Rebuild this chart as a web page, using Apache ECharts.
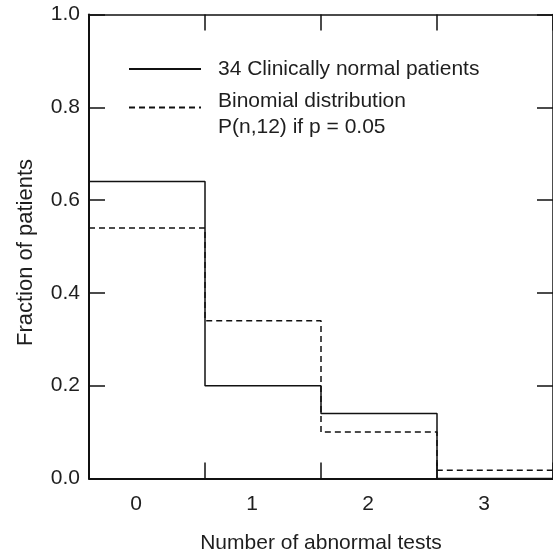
<!DOCTYPE html>
<html><head><meta charset="utf-8">
<script src="https://cdn.jsdelivr.net/npm/echarts@6/dist/echarts.min.js"></script>
<style>html,body{margin:0;padding:0;background:#fff}#c{width:553px;height:560px}</style>
</head><body><div id="c"></div>
<script>
const categories = ['0', '1', '2', '3'];
const binEdges = [0, 1, 2, 3, 4];
const observed = [0.64, 0.20, 0.14, 0.0];
const binomial = [0.54, 0.34, 0.10, 0.018];
const seriesNames = ['34 Clinically normal patients', 'Binomial distribution'];
const binomialSubtitle = 'P(n,12) if p = 0.05';
const xTitle = 'Number of abnormal tests';
const yTitle = 'Fraction of patients';

function stepPoints(vals) {
  const pts = vals.map((v, i) => [binEdges[i], v]);
  pts.push([binEdges[vals.length], vals[vals.length - 1]]);
  return pts;
}

const FONT = 'Liberation Sans, Arial, Helvetica, sans-serif';
const INK = '#111';
const TXT = '#1e1e1e';

const chart = echarts.init(document.getElementById('c'), null, {renderer: 'canvas'});
const frameAxis = (pos, w) => ({
  type: 'value', position: pos, min: 0, max: 4, interval: 1,
  axisLine: {onZero: false, lineStyle: {color: INK, width: w}},
  axisTick: {inside: true, length: 16, lineStyle: {color: INK, width: 1.5}},
  axisLabel: {show: false}, splitLine: {show: false}
});
const frameY = (pos, w) => ({
  type: 'value', position: pos, min: 0, max: 1, interval: 0.2,
  axisLine: {show: true, onZero: false, lineStyle: {color: INK, width: w}},
  axisTick: {show: true, inside: true, length: 16, lineStyle: {color: INK, width: 1.5}},
  axisLabel: {show: false}, splitLine: {show: false}
});
const legendBase = {
  orient: 'horizontal', left: 128, padding: 0, itemWidth: 72, itemHeight: 14,
  selectedMode: false,
  itemStyle: {opacity: 0, color: 'rgba(0,0,0,0)', borderWidth: 0}
};
const tokenStyle = {fontFamily: FONT, fontSize: 21, color: TXT};

const xLeft = frameAxis('bottom', 2);
xLeft.name = xTitle;
xLeft.nameLocation = 'middle';
xLeft.nameGap = 54;
xLeft.nameTextStyle = {fontFamily: FONT, fontSize: 21, color: TXT};

const yLeft = frameY('left', 2);
yLeft.axisLabel = {show: true, margin: 9, fontFamily: FONT, fontSize: 21, color: TXT, formatter: v => v.toFixed(1)};
yLeft.name = yTitle;
yLeft.nameLocation = 'middle';
yLeft.nameRotate = 90;
yLeft.nameGap = 52;
yLeft.nameTextStyle = {fontFamily: FONT, fontSize: 22, color: TXT, padding: [0, 12, 0, 0]};

chart.setOption({
  animation: false,
  backgroundColor: '#fff',
  grid: {left: 89, right: -1, top: 14.5, bottom: 81.5, containLabel: false},
  legend: [
    Object.assign({}, legendBase, {
      top: 56, data: [seriesNames[0]],
      textStyle: {fontFamily: FONT, fontSize: 21, color: TXT, lineHeight: 26, padding: [0, 0, 0, 12]}
    }),
    Object.assign({}, legendBase, {
      top: 77, data: [seriesNames[1]],
      formatter: n => '{a|' + n + '}\n{b|' + binomialSubtitle + '}',
      textStyle: {
        fontFamily: FONT, fontSize: 21, color: TXT,
        rich: {
          a: Object.assign({}, tokenStyle, {lineHeight: 40, padding: [14, 0, 0, 12]}),
          b: Object.assign({}, tokenStyle, {lineHeight: 26, padding: [0, 0, 0, 12]})
        }
      }
    })
  ],
  xAxis: [
    xLeft,
    frameAxis('top', 1.5),
    {
      type: 'category', position: 'bottom', data: categories, boundaryGap: true,
      axisLine: {show: false}, axisTick: {show: false}, splitLine: {show: false},
      axisLabel: {margin: 15, padding: [0, 22, 0, 0], fontFamily: FONT, fontSize: 21, color: TXT}
    }
  ],
  yAxis: [yLeft, frameY('right', 1.5)],
  series: [
    {
      name: seriesNames[1], type: 'line', step: 'end', symbol: 'none', xAxisIndex: 0, yAxisIndex: 0,
      data: stepPoints(binomial), z: 2,
      lineStyle: {color: INK, width: 1.5, type: [6, 4]}
    },
    {
      name: seriesNames[0], type: 'line', step: 'end', symbol: 'none', xAxisIndex: 0, yAxisIndex: 0,
      data: stepPoints(observed), z: 3,
      lineStyle: {color: INK, width: 1.5, type: 'solid'}
    }
  ]
});
</script></body></html>
